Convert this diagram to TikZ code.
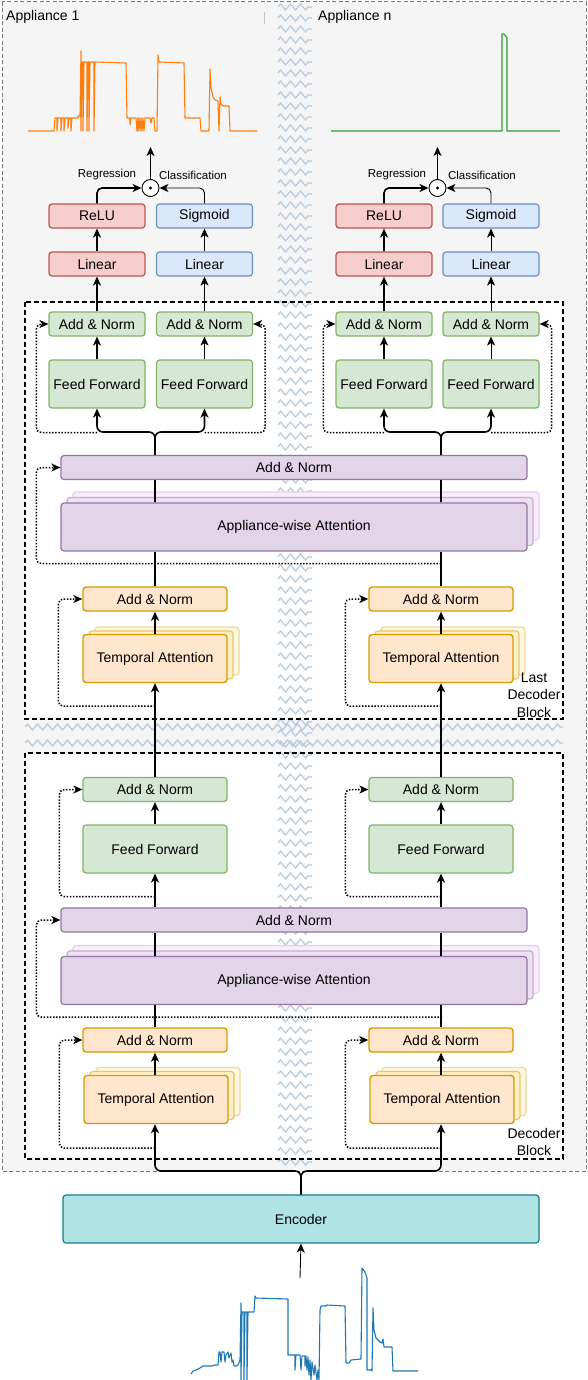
\documentclass[tikz,border=0pt]{standalone}
\usepackage{fontspec}
\setmainfont{Liberation Sans}
\usetikzlibrary{arrows.meta,calc,decorations.pathmorphing}
\definecolor{gfill}{HTML}{D5E8D4}\definecolor{gline}{HTML}{82B366}
\definecolor{rfill}{HTML}{F8CECC}\definecolor{rline}{HTML}{B85450}
\definecolor{bfill}{HTML}{DAE8FC}\definecolor{bline}{HTML}{6C8EBF}
\definecolor{ofill}{HTML}{FFE6CC}\definecolor{oline}{HTML}{D79B00}
\definecolor{pfill}{HTML}{E1D5E7}\definecolor{pline}{HTML}{9673A6}
\definecolor{efill}{HTML}{B0E3E6}\definecolor{eline}{HTML}{0E8088}
\definecolor{bgfill}{HTML}{F5F5F5}\definecolor{bgline}{HTML}{777777}
\definecolor{zzc}{HTML}{B8C9DA}
\definecolor{pb1f}{HTML}{ECE1F1}\definecolor{pb1l}{HTML}{C9AAD8}
\definecolor{pb2f}{HTML}{F7EEFA}\definecolor{pb2l}{HTML}{EACBF3}
\definecolor{ob1f}{HTML}{FFF0C8}\definecolor{ob1l}{HTML}{E6C66E}
\definecolor{ob2f}{HTML}{FFF7E0}\definecolor{ob2l}{HTML}{EED99E}
\definecolor{corange}{HTML}{FF7F0E}\definecolor{cgreen}{HTML}{2CA02C}\definecolor{cblue}{HTML}{1F77B4}
\newcommand\fsz[2]{\fontsize{#1}{#2}\selectfont}
\begin{document}
\begin{tikzpicture}[x=1pt,y=-1pt,
  box/.style={draw, rounded corners=3pt, line width=1.2pt, inner sep=0pt, align=center, font=\fsz{14}{16}},
  gbox/.style={box, fill=gfill, draw=gline},
  rbox/.style={box, fill=rfill, draw=rline},
  bbox/.style={box, fill=bfill, draw=bline},
  obox/.style={box, fill=ofill, draw=oline, line width=1.4pt},
  pbox/.style={box, fill=pfill, draw=pline},
  pbackA/.style={box, fill=pb2f, draw=pb2l},
  pbackB/.style={box, fill=pb1f, draw=pb1l},
  obackA/.style={box, fill=ob2f, draw=ob2l},
  obackB/.style={box, fill=ob1f, draw=ob1l},
  sm/.style={minimum width=96, minimum height=24},
  md/.style={minimum width=144, minimum height=24},
  mdt/.style={minimum width=144, minimum height=48},
  wd/.style={minimum width=466, minimum height=24},
  wdt/.style={minimum width=466, minimum height=48},
  tip/.style={-{Stealth[length=9pt,width=8pt,inset=2.5pt]}},
  ln/.style={line width=1.6pt, tip},
  lnt/.style={line width=0.9pt, tip},
  pl/.style={line width=1.4pt},
  skip/.style={line width=1.5pt, dash pattern=on 1.5pt off 1.6pt, rounded corners=5pt, tip},
  blk/.style={line width=1.3pt, dash pattern=on 5pt off 3pt},
  zz/.style={draw=zzc, line width=1.2pt, decorate, decoration={zigzag, segment length=10pt, amplitude=3pt}},
  chart/.style={line width=1.1pt, line join=round}
]
\useasboundingbox (0,0) rectangle (588,1380);
% background panels
\draw[fill=bgfill, draw=bgline, line width=1pt, dash pattern=on 4pt off 2.5pt] (2,2) rectangle (586,1171);
\fill[white] (25,302) rectangle (563,719);
\fill[white] (25,753) rectangle (563,1159);
% zigzag breaks
\foreach \yy in {7,18,...,1166} \draw[zz] (278,\yy) -- (312,\yy);
\foreach \yy in {727,743} \draw[zz] (25,\yy) -- (563,\yy);
\draw[zzc, line width=1pt] (264,12) -- (264,24);
% block borders
\draw[blk] (25,302) rectangle (563,719);
\draw[blk] (25,753) rectangle (563,1159);
% titles
\node[anchor=west, inner sep=0, font=\fsz{14}{16}] (t1) at (6,17) {Appliance 1};
\node[anchor=west, inner sep=0, font=\fsz{14}{16}] (tn) at (318,17) {Appliance n};
% output charts
\draw[chart, corange] (28,131) -- (54,131) -- (55,118) -- (57,118) -- (57,131) -- (58,118) -- (61,118) -- (61,131) -- (62,118) -- (64,118) -- (64,131) -- (65,118) -- (68,118) -- (68,128) -- (69,118) -- (71,118) -- (71,131) -- (72,118) -- (78,118) -- (78,116) -- (80,116) -- (81,51) -- (81,131) -- (82,62) -- (83,62) -- (83,131) -- (84,62) -- (87,62) -- (87,131) -- (88,62) -- (89,62) -- (89,131) -- (90,62) -- (94,62) -- (94,131) -- (95,62) -- (126,63) -- (127,118) -- (130,118) -- (130,125) -- (131,118) -- (136,118) -- (137,131) -- (138,118) -- (138,131) -- (139,118) -- (140,131) -- (141,118) -- (142,131) -- (143,118) -- (144,131) -- (145,118) -- (150,118) -- (151,123) -- (152,118) -- (154,118) -- (155,131) -- (157,131) -- (158,55) -- (159,62) -- (184,63) -- (185,118) -- (200,118) -- (201,131) -- (209,131) -- (210,69) -- (211,88) -- (213,97) -- (215,100) -- (218,101) -- (219,131) -- (220,97) -- (221,104) -- (223,106) -- (229,106) -- (230,131) -- (257,131);
\draw[chart, cgreen] (331,131) -- (502,131) -- (502,34) -- (504,34) -- (507,38) -- (507,131) -- (560,131);
% input chart
\draw[chart, cblue] (191,1374) -- (193,1371) -- (196,1370) -- (200,1368) -- (203,1366) -- (212,1366) -- (214,1365) -- (218,1365) -- (219,1352) -- (220,1352) -- (221,1362) -- (222,1352) -- (224,1352) -- (225,1362) -- (226,1355) -- (228,1352) -- (229,1358) -- (231,1353) -- (232,1362) -- (233,1360) -- (234,1366) -- (236,1366) -- (238,1365) -- (240,1360) -- (241,1303) -- (241,1380) -- (242,1312) -- (244,1312) -- (244,1380) -- (245,1312) -- (247,1312) -- (247,1380) -- (248,1312) -- (254,1312) -- (255,1296) -- (256,1298) -- (288,1299) -- (288,1355) -- (295,1355) -- (295,1370) -- (296,1355) -- (300,1355) -- (301,1370) -- (302,1356) -- (305,1356) -- (305,1366) -- (306,1356) -- (307,1370) -- (308,1357) -- (309,1375) -- (310,1360) -- (311,1380) -- (312,1362) -- (314,1375) -- (315,1365) -- (317,1380) -- (318,1370) -- (319,1380) -- (320,1310) -- (321,1306) -- (326,1306) -- (327,1305) -- (345,1306) -- (346,1363) -- (349,1363) -- (351,1360) -- (361,1359) -- (362,1268) -- (365,1272) -- (367,1278) -- (367,1370) -- (371,1370) -- (372,1371) -- (373,1308) -- (374,1330) -- (376,1338) -- (380,1342) -- (382,1343) -- (383,1339) -- (384,1347) -- (392,1347) -- (393,1371) -- (418,1371);

% ---------- heads (appliance 1) ----------
\node[rbox, sm] (rl1) at (97,216) {ReLU};
\node[bbox, sm] (sg1) at (204.5,216) {Sigmoid};
\node[rbox, sm] (lr1) at (97,264) {Linear};
\node[bbox, sm] (lb1) at (204.5,264) {Linear};
\node[gbox, sm] (ga1) at (97,324) {Add \& Norm};
\node[gbox, sm] (gb1) at (204.5,324) {Add \& Norm};
\node[gbox, sm, minimum height=48] (fa1) at (97,384) {Feed Forward};
\node[gbox, sm, minimum height=48] (fb1) at (204.5,384) {Feed Forward};
\node[fill=white, minimum size=21, inner sep=0] (cw1) at (150.5,188) {};
\node[circle, draw, line width=0.9pt, minimum size=17, inner sep=0] (c1) at (150.5,188) {};
\fill (c1.center) circle (1.7);
\node[font=\fsz{11.5}{13}] (rg1) at (107,175) {Regression};
\node[font=\fsz{11.5}{13}] (cl1) at (193,175) {Classification};
\coordinate (o1) at (150.5,147);
% ---------- heads (appliance n) ----------
\node[rbox, sm] (rl2) at (384,216) {ReLU};
\node[bbox, sm] (sg2) at (491,216) {Sigmoid};
\node[rbox, sm] (lr2) at (384,264) {Linear};
\node[bbox, sm] (lb2) at (491,264) {Linear};
\node[gbox, sm] (ga2) at (384,324) {Add \& Norm};
\node[gbox, sm] (gb2) at (491,324) {Add \& Norm};
\node[gbox, sm, minimum height=48] (fa2) at (384,384) {Feed Forward};
\node[gbox, sm, minimum height=48] (fb2) at (491,384) {Feed Forward};
\node[fill=white, minimum size=21, inner sep=0] (cw2) at (437.5,188) {};
\node[circle, draw, line width=0.9pt, minimum size=17, inner sep=0] (c2) at (437.5,188) {};
\fill (c2.center) circle (1.7);
\node[font=\fsz{11.5}{13}] (rg2) at (397,175) {Regression};
\node[font=\fsz{11.5}{13}] (cl2) at (482,175) {Classification};
\coordinate (o2) at (437.5,147);

% ---------- last decoder block ----------
\node[pbox, wd] (pA) at (294,467.5) {Add \& Norm};
\node[pbackA, wdt] (awA3) at (306,516) {};
\node[pbackB, wdt] (awA2) at (300,521.5) {};
\node[pbox, wdt] (awA) at (294,527) {Appliance-wise Attention};
\node[obox, md] (oaL) at (155,599) {Add \& Norm};
\node[obox, md] (oaR) at (441,599) {Add \& Norm};
\node[obackA, mdt] (taL3) at (167,651) {};
\node[obackB, mdt] (taL2) at (161,655) {};
\node[obox, mdt] (taL) at (155,658.5) {Temporal Attention};
\node[obackA, mdt] (taR3) at (453,651) {};
\node[obackB, mdt] (taR2) at (447,655) {};
\node[obox, mdt] (taR) at (441,658.5) {Temporal Attention};
\node[align=center, font=\fsz{14}{17.5}, inner sep=0] (lb1t) at (534,695) {Last\\Decoder\\Block};

% ---------- decoder block ----------
\node[gbox, md] (gL2) at (155,789.5) {Add \& Norm};
\node[gbox, md] (gR2) at (441,789.5) {Add \& Norm};
\node[gbox, mdt] (fL2) at (155,849) {Feed Forward};
\node[gbox, mdt] (fR2) at (441,849) {Feed Forward};
\node[pbox, wd] (pB) at (294,920) {Add \& Norm};
\node[pbackA, wdt] (awB3) at (306,969.5) {};
\node[pbackB, wdt] (awB2) at (300,975) {};
\node[pbox, wdt] (awB) at (294,980.5) {Appliance-wise Attention};
\node[obox, md] (obL) at (155,1040) {Add \& Norm};
\node[obox, md] (obR) at (441,1040) {Add \& Norm};
\node[obackA, mdt] (tbL3) at (168,1091.5) {};
\node[obackB, mdt] (tbL2) at (162,1095.5) {};
\node[obox, mdt] (tbL) at (156,1099.5) {Temporal Attention};
\node[obackA, mdt] (tbR3) at (454,1091.5) {};
\node[obackB, mdt] (tbR2) at (448,1095.5) {};
\node[obox, mdt] (tbR) at (442,1099.5) {Temporal Attention};
\node[align=center, font=\fsz{14}{17.5}, inner sep=0] (lb2t) at (534,1142) {Decoder\\Block};

% encoder
\node[box, fill=efill, draw=eline, minimum width=476, minimum height=48] (enc) at (301,1219) {Encoder};
\coordinate (inp) at (300,1278);

% ---------- skip connections ----------
\draw[skip] ($(fa1.south)+(0,24)$) -| ($(ga1.west)+(-12,0)$) -- (ga1.west);
\draw[skip] ($(fb1.south)+(0,24)$) -| ($(gb1.east)+(12,0)$) -- (gb1.east);
\draw[skip] ($(fa2.south)+(0,24)$) -| ($(ga2.west)+(-12,0)$) -- (ga2.west);
\draw[skip] ($(fb2.south)+(0,24)$) -| ($(gb2.east)+(12,0)$) -- (gb2.east);
\draw[skip] ($(taR.north |- awA.south)+(0,12)$) -| ($(pA.west)+(-24,0)$) -- (pA.west);
\draw[skip] ($(taL.south)+(0,23)$) -| ($(oaL.west)+(-24,0)$) -- (oaL.west);
\draw[skip] ($(taR.south)+(0,23)$) -| ($(oaR.west)+(-23,0)$) -- (oaR.west);
\draw[skip] ($(fL2.south)+(0,23)$) -| ($(gL2.west)+(-23,0)$) -- (gL2.west);
\draw[skip] ($(fR2.south)+(0,23)$) -| ($(gR2.west)+(-23,0)$) -- (gR2.west);
\draw[skip] ($(tbR.north |- awB.south)+(0,12)$) -| ($(pB.west)+(-24,0)$) -- (pB.west);
\draw[skip] ($(obL.south |- tbL.south)+(0,24)$) -| ($(obL.west)+(-23,0)$) -- (obL.west);
\draw[skip] ($(obR.south |- tbR.south)+(0,24)$) -| ($(obR.west)+(-23,0)$) -- (obR.west);

% ---------- main flow ----------
\draw[lnt] (inp) -- (enc.south);
\coordinate (fkB) at (301,1171);
\draw[ln, rounded corners=6pt] (enc.north) -- (fkB) -- (fkB -| obL.south) -- (obL.south |- tbL.south);
\draw[ln, rounded corners=6pt] (enc.north) -- (fkB) -- (fkB -| obR.south) -- (obR.south |- tbR.south);
\foreach \c in {L,R}{
  \draw[ln] (ob\c.south |- tb\c.north) -- (ob\c.south);
  \draw[pl] (ob\c.north) -- (ob\c.north |- awB.south);
  \draw[pl] (ob\c.north |- awB.north) -- (ob\c.north |- pB.south);
  \draw[ln] (ob\c.north |- pB.north) -- (f\c2.south);
  \draw[ln] (f\c2.north) -- (g\c2.south);
  \draw[ln] (g\c2.north) -- (ta\c.south);
  \draw[ln] (ta\c.north) -- (oa\c.south);
  \draw[pl] (oa\c.north) -- (oa\c.north |- awA.south);
  \draw[pl] (oa\c.north |- awA.north) -- (oa\c.north |- pA.south);
}
\coordinate (fkL) at (155,432);
\coordinate (fkR) at (441,432);
\draw[ln, rounded corners=6pt] (oaL.north |- pA.north) -- (fkL) -- (fkL -| fa1.south) -- (fa1.south);
\draw[ln, rounded corners=6pt] (oaL.north |- pA.north) -- (fkL) -- (fkL -| fb1.south) -- (fb1.south);
\draw[ln, rounded corners=6pt] (oaR.north |- pA.north) -- (fkR) -- (fkR -| fa2.south) -- (fa2.south);
\draw[ln, rounded corners=6pt] (oaR.north |- pA.north) -- (fkR) -- (fkR -| fb2.south) -- (fb2.south);
\draw[ln] (fa1.north) -- (ga1.south);
\draw[lnt] (fb1.north) -- (gb1.south);
\draw[ln] (ga1.north) -- (lr1.south);
\draw[lnt] (gb1.north) -- (lb1.south);
\draw[ln] (lr1.north) -- (rl1.south);
\draw[lnt] (lb1.north) -- (sg1.south);
\draw[ln, rounded corners=5pt] (rl1.north) |- (c1.west);
\draw[lnt, rounded corners=5pt] (sg1.north) |- (c1.east);
\draw[ln] (c1.north) -- (o1);
\draw[ln] (fa2.north) -- (ga2.south);
\draw[lnt] (fb2.north) -- (gb2.south);
\draw[ln] (ga2.north) -- (lr2.south);
\draw[lnt] (gb2.north) -- (lb2.south);
\draw[ln] (lr2.north) -- (rl2.south);
\draw[lnt] (lb2.north) -- (sg2.south);
\draw[ln, rounded corners=5pt] (rl2.north) |- (c2.west);
\draw[lnt, rounded corners=5pt] (sg2.north) |- (c2.east);
\draw[lnt] (c2.north) -- (o2);
\end{tikzpicture}
\end{document}
